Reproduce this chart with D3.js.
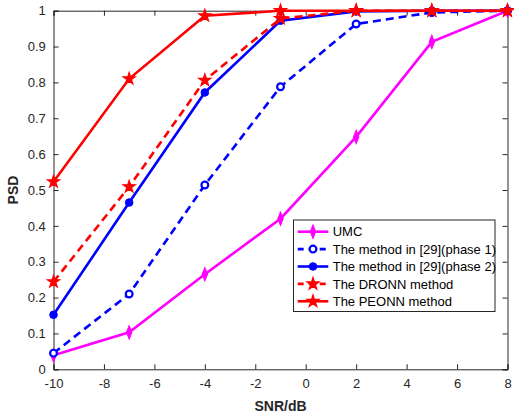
<!DOCTYPE html>
<html><head><meta charset="utf-8">
<script src="https://cdn.jsdelivr.net/npm/d3@7"></script>
<style>body{margin:0;background:#fff;font-family:Arial,"Liberation Sans",sans-serif;}</style>
</head><body><svg id="c" width="514" height="416"></svg>
<script>
const snr = [-10, -7, -4, -1, 2, 5, 8];
const umc = [0.039, 0.103, 0.265, 0.42, 0.648, 0.913, 1.0];
const phase1 = [0.045, 0.21, 0.514, 0.788, 0.963, 0.995, 1.0];
const phase2 = [0.152, 0.465, 0.772, 0.972, 0.998, 1.0, 1.0];
const dronn = [0.244, 0.509, 0.806, 0.978, 1.0, 1.0, 1.0];
const peonn = [0.523, 0.81, 0.986, 1.0, 1.0, 1.0, 1.0];
const xTicks = [-10, -8, -6, -4, -2, 0, 2, 4, 6, 8];
const yTicks = [0, 0.1, 0.2, 0.3, 0.4, 0.5, 0.6, 0.7, 0.8, 0.9, 1];
const seriesNames = ["UMC", "The method in [29](phase 1)", "The method in [29](phase 2)", "The DRONN method", "The PEONN method"];

const series = [
  {name: seriesNames[0], vals: umc, color: "#ff00ff", dash: null, marker: "diamond"},
  {name: seriesNames[1], vals: phase1, color: "#0000ff", dash: "8,5", marker: "ocircle"},
  {name: seriesNames[2], vals: phase2, color: "#0000ff", dash: null, marker: "circle"},
  {name: seriesNames[3], vals: dronn, color: "#ff0000", dash: "8,5", marker: "star"},
  {name: seriesNames[4], vals: peonn, color: "#ff0000", dash: null, marker: "star"}
];

const L = 53.5, R = 507.5, T = 10.7, B = 369.3;
const x = d3.scaleLinear().domain([-10, 8]).range([L, R]);
const y = d3.scaleLinear().domain([0, 1]).range([B, T]);
const svg = d3.select("#c");
const axc = "#262626";

// axes
const gx = svg.append("g").attr("transform", `translate(0,${B})`)
  .call(d3.axisBottom(x).tickValues(xTicks).tickSize(-5).tickPadding(9).tickFormat(d => String(d)));
const gy = svg.append("g").attr("transform", `translate(${L},0)`)
  .call(d3.axisLeft(y).tickValues(yTicks).tickSize(-5).tickPadding(9).tickFormat(d => d === 0 || d === 1 ? String(d) : d3.format(".1f")(d)));
const gt = svg.append("g").attr("transform", `translate(0,${T})`)
  .call(d3.axisTop(x).tickValues(xTicks).tickSize(-5).tickFormat(""));
const gr = svg.append("g").attr("transform", `translate(${R},0)`)
  .call(d3.axisRight(y).tickValues(yTicks).tickSize(-5).tickFormat(""));
[gx, gy, gt, gr].forEach(g => {
  g.selectAll("path.domain").attr("stroke", axc).attr("stroke-width", 1);
  g.selectAll(".tick line").attr("stroke", axc);
  g.selectAll("text").attr("fill", axc).style("font-size", "13px").style("font-family", "Arial, 'Liberation Sans', sans-serif");
});
gy.selectAll(".tick text").attr("dx", "0.1em");

const line = d3.line().x((d, i) => x(snr[i])).y(d => y(d));

const star = d3.symbol().type(d3.symbolStar).size(46);
const diamond = d3.symbol().type(d3.symbolDiamond).size(42);

function drawMarker(g, m, color, cx, cy) {
  if (m === "diamond") {
    g.append("path").attr("d", diamond()).attr("transform", `translate(${cx},${cy}) scale(0.8,1.15)`).attr("fill", color).attr("stroke", color).attr("stroke-width", 1);
  } else if (m === "ocircle") {
    g.append("circle").attr("cx", cx).attr("cy", cy).attr("r", 3.4).attr("fill", "#fff").attr("stroke", color).attr("stroke-width", 2.2);
  } else if (m === "circle") {
    g.append("circle").attr("cx", cx).attr("cy", cy).attr("r", 3.8).attr("fill", color).attr("stroke", color).attr("stroke-width", 1);
  } else if (m === "star") {
    g.append("path").attr("d", star()).attr("transform", `translate(${cx},${cy})`).attr("fill", color).attr("stroke", color).attr("stroke-width", 1.2);
  }
}

const plot = svg.append("g");
series.forEach(s => {
  plot.append("path").datum(s.vals).attr("d", line).attr("fill", "none")
    .attr("stroke", s.color).attr("stroke-width", 2.6).attr("stroke-dasharray", s.dash);
  s.vals.forEach((v, i) => drawMarker(plot, s.marker, s.color, x(snr[i]), y(v)));
});

// legend
const lg = svg.append("g");
lg.append("rect").attr("x", 293.5).attr("y", 220).attr("width", 201.5).attr("height", 91.5)
  .attr("fill", "#fff").attr("stroke", axc).attr("stroke-width", 1);
series.forEach((s, i) => {
  const ly = 231.7 + i * 17.4;
  lg.append("line").attr("x1", 297.7).attr("x2", 328.3).attr("y1", ly).attr("y2", ly)
    .attr("stroke", s.color).attr("stroke-width", 2.6).attr("stroke-dasharray", s.dash ? "6,5" : null);
  drawMarker(lg, s.marker, s.color, 313, ly);
  lg.append("text").attr("x", 332.7).attr("y", ly).attr("dy", "0.36em").text(s.name)
    .attr("fill", "#000").style("font-size", "13px");
});

// titles
svg.append("text").attr("x", x(-1)).attr("y", 411).attr("text-anchor", "middle")
  .style("font-size", "14px").style("font-weight", "bold").attr("fill", axc).text("SNR/dB");
svg.append("text").attr("transform", `translate(18,${(T + B) / 2}) rotate(-90)`).attr("text-anchor", "middle")
  .style("font-size", "14px").style("font-weight", "bold").attr("fill", axc).text("PSD");
</script></body></html>
